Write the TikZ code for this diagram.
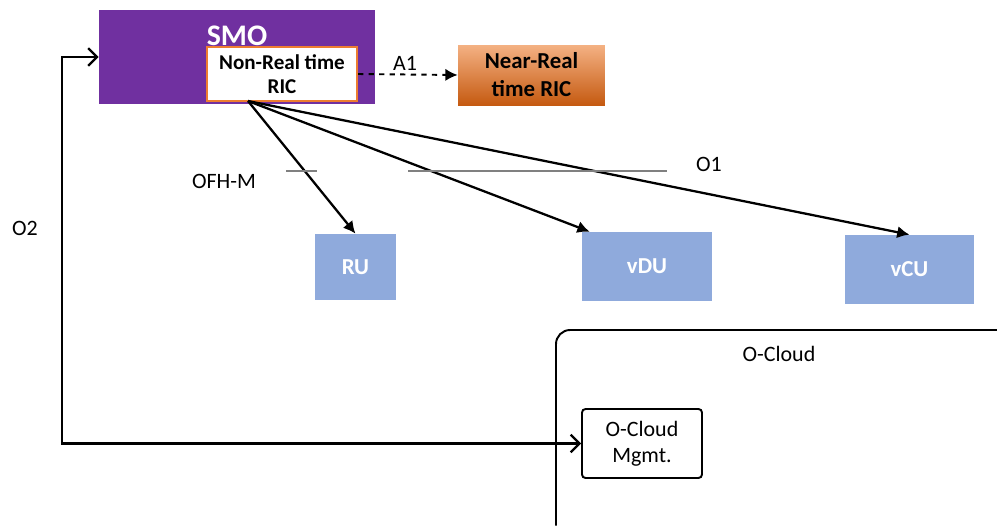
\documentclass[tikz,border=0pt]{standalone}
\usepackage{fontspec}
\setmainfont{Carlito}
\usepackage{tikz}
\usetikzlibrary{arrows.meta,calc}
\definecolor{smopurple}{HTML}{7030A0}
\definecolor{ricorange}{HTML}{ED7D31}
\definecolor{rictop}{HTML}{F4B183}
\definecolor{ricbot}{HTML}{C55A11}
\definecolor{nfblue}{HTML}{8FAADC}
\tikzset{
  nfbox/.style={fill=nfblue, text=white, font=\fontsize{13}{15}\selectfont\bfseries, inner sep=0pt},
  lbl/.style={font=\fontsize{12.5}{14}\selectfont, inner sep=1pt},
  ifarrow/.style={line width=1.3pt, -{Latex[length=7pt,width=7pt]}}
}
\begin{document}
\begin{tikzpicture}[x=0.02cm,y=-0.02cm]
\useasboundingbox (0,0) rectangle (997,525);
% SMO with non-RT RIC inside
\node[fill=smopurple, minimum width=5.52cm, minimum height=1.88cm, inner sep=0pt] (smo) at (237,57) {};
\node[text=white, font=\fontsize{17}{19}\selectfont\bfseries] (smolbl) at (237,36) {SMO};
\node[fill=white, draw=ricorange, line width=1.2pt, minimum width=3.0cm, minimum height=1.08cm, align=center, inner sep=0pt, font=\fontsize{12}{14}\selectfont\bfseries] (nrtric) at (282,74) {Non-Real time\\RIC};
\node[top color=rictop, bottom color=ricbot, minimum width=2.94cm, minimum height=1.2cm, align=center, inner sep=0pt, font=\fontsize{13}{16}\selectfont\bfseries] (nearric) at (531.5,75) {Near-Real\\time RIC};
% network functions
\node[nfbox, minimum width=1.62cm, minimum height=1.32cm] (ru) at (355.5,267) {RU};
\node[nfbox, minimum width=2.6cm, minimum height=1.38cm] (vdu) at (647,266.5) {vDU};
\node[nfbox, minimum width=2.58cm, minimum height=1.38cm] (vcu) at (909.5,269.5) {vCU};
% O-Cloud
\draw[line width=1.1pt, rounded corners=8pt] (556,525.5) -- (556,330) -- (1010,330);
\node[lbl] (ocloud) at (779,354) {O-Cloud};
\node[draw, line width=1.1pt, rounded corners=2pt, minimum width=2.4cm, minimum height=1.38cm, align=center, inner sep=0pt, font=\fontsize{12.5}{15}\selectfont] (ocmgmt) at (642,443.5) {O-Cloud\\Mgmt.};
% interfaces
\draw[line width=1.1pt, dashed, -{Latex[length=7pt,width=7pt]}] (nrtric.east) -- (nearric.west);
\node[lbl] (a1) at (405,63) {A1};
\coordinate (fan) at (248,101);
\draw[ifarrow] (fan) -- (ru.north);
\draw[ifarrow] (fan) -- ([xshift=0.16cm]vdu.north west);
\draw[ifarrow] (fan) -- (vcu.north);
\draw[gray, line width=0.8pt] (286,171) -- (317,171);
\draw[gray, line width=0.8pt] (408,171) -- (667,171);
\node[lbl] (ofhm) at (224,181) {OFH-M};
\node[lbl] (o1) at (709,164) {O1};
\coordinate (o2top) at (62,57);
\draw[line width=1.3pt, {Straight Barb[length=5pt,width=10pt]}-{Straight Barb[length=5pt,width=10pt]}] (smo.west) -- (o2top) |- (ocmgmt.west);
\node[lbl] (o2) at (25,228) {O2};
\end{tikzpicture}
\end{document}
